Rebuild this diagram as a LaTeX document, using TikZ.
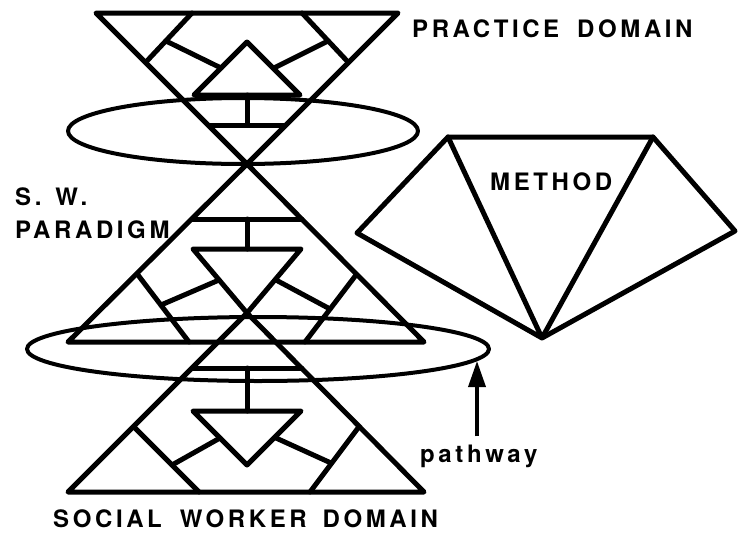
\documentclass[tikz,border=0pt]{standalone}
\usepackage{fontspec}
\setmainfont{TeX Gyre Heros}
\newfontfamily\lblfont[LetterSpace=15]{TeX Gyre Heros}
\usetikzlibrary{arrows.meta}
\begin{document}
\begin{tikzpicture}[x=1pt,y=-1pt,line join=round,line cap=round,
  tri/.style={line width=5pt},
  ringline/.style={line width=4pt},
  lbl/.style={font=\lblfont\bfseries\fontsize{24}{27}\selectfont,inner sep=0pt,anchor=base west},
  arr/.style={line width=3.6pt,line cap=butt,-{Triangle[length=26pt,width=17pt]}}]
\useasboundingbox (0,0) rectangle (738,533);

% ---------- top block (practice domain) ----------
\draw[tri] (96,13) -- (398,13) -- (247,164) -- cycle;
\draw[tri] (247,42) -- (300,95) -- (194,95) -- cycle;
\draw[tri] (247,95) -- (247,125);
\draw[tri] (209,125) -- (285,125);
\draw[tri] (192,13) -- (146,62);
\draw[tri] (302,13) -- (348,62);
\draw[tri] (166,41) -- (221,68);
\draw[tri] (328,41) -- (274,68);

% ---------- middle block (paradigm) ----------
\draw[tri] (247,164) -- (424,342) -- (68,342) -- cycle;
\draw[tri] (192,219) -- (302,219);
\draw[tri] (247,219) -- (247,249);
\draw[tri] (193,249) -- (301,249) -- (247,313) -- cycle;
\draw[tri] (138,275) -- (189,342);
\draw[tri] (356,275) -- (305,342);
\draw[tri] (161,305) -- (219,280);
\draw[tri] (330,309) -- (276,280);

% ---------- bottom block (social worker domain) ----------
\draw[tri] (247,313) -- (424,492) -- (68,492) -- cycle;
\draw[tri] (192,368) -- (302,368);
\draw[tri] (247,368) -- (247,411);
\draw[tri] (193,411) -- (301,411) -- (247,465) -- cycle;
\draw[tri] (135,428) -- (199,492);
\draw[tri] (358,428) -- (310,492);
\draw[tri] (172,465) -- (220,438);
\draw[tri] (276,438) -- (331,463);

% ---------- ellipses ----------
\draw[ringline] (243,131) ellipse [x radius=175pt,y radius=33pt];
\draw[ringline] (258,349) ellipse [x radius=231pt,y radius=32pt];

% ---------- method fan ----------
\coordinate (mL) at (357,233);
\coordinate (mTL) at (448,137);
\coordinate (mTR) at (653,137);
\coordinate (mR) at (735,231);
\coordinate (mB) at (542,338);
\draw[tri] (mL) -- (mTL) -- (mTR) -- (mR) -- (mB) -- cycle;
\draw[tri] (mTL) -- (mB) -- (mTR);

% ---------- labels ----------
\node[lbl] (practice) at (412,37) {PRACTICE\hspace{18pt}DOMAIN};
\node[lbl] (sw) at (15,205) {S.\hspace{14pt}W.};
\node[lbl] (paradigm) at (15,238) {PARADIGM};
\node[lbl] (method) at (490,190) {METHOD};
\node[lbl] (social) at (53,527) {SOCIAL\hspace{18pt}WORKER\hspace{16pt}DOMAIN};
\node[lbl] (pw) at (420,462) {pathway};

\coordinate (pwtip) at (477,361);
\draw[arr] ([yshift=8pt]pwtip |- pw.north) -- (pwtip);
\end{tikzpicture}
\end{document}
